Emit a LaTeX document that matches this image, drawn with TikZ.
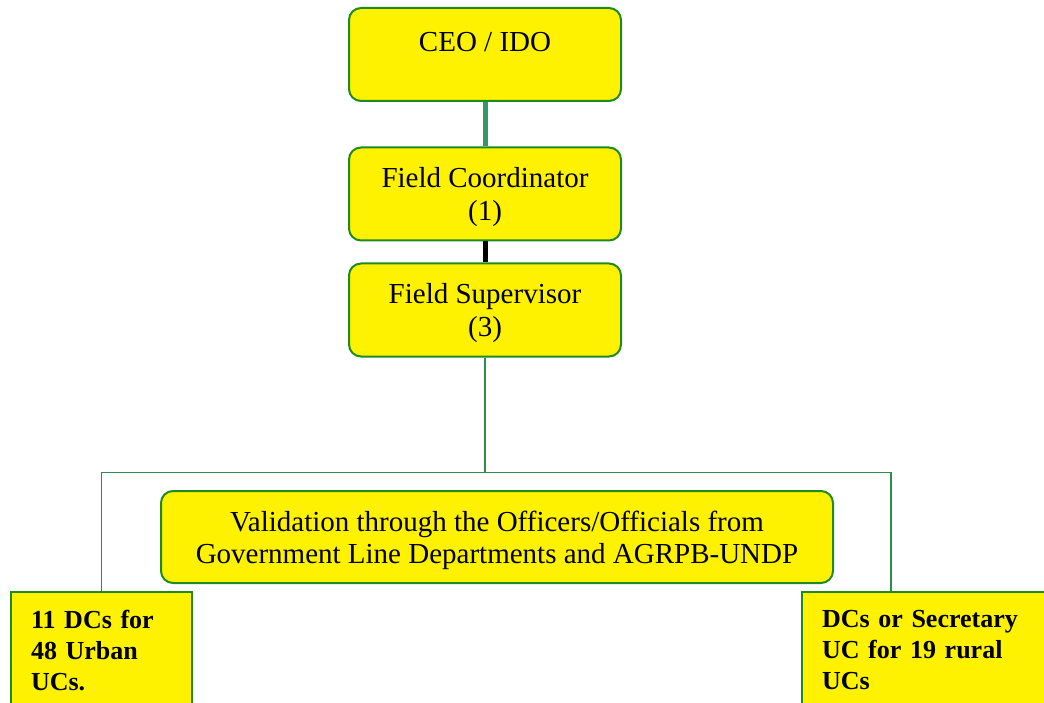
\documentclass[tikz,border=0pt]{standalone}
\usepackage{fontspec}
\setmainfont{Liberation Serif}
\definecolor{postgreen}{HTML}{1F8A1F}
\definecolor{linkgreen}{HTML}{339966}
\definecolor{wiregreen}{HTML}{2E8B4A}

\tikzset{%
  every post/.style={
    draw=postgreen,
    line width=2pt,
    fill=yellow,
    rounded corners=12pt,
    align=center,
    inner sep=0pt,
    text depth=0pt,
    minimum width=272pt,
    minimum height=93pt,
    font=\fontsize{29}{33}\selectfont
  },
  post wide/.style={
    minimum width=672pt,
    minimum height=92pt,
    font=\fontsize{29}{32}\selectfont
  },
  unit post/.style={
    draw=postgreen,
    line width=2pt,
    fill=yellow,
    anchor=north west,
    align=left,
    inner xsep=20pt,
    inner ysep=18pt,
    font=\fontsize{26}{31}\selectfont\bfseries
  },
}

\begin{document}
\begin{tikzpicture}[x=1pt, y=-1pt]
\clip (0,0) rectangle (1044,703);

% TOP chain
\node [every post] (ceo) at (485,54.5) {CEO / IDO\\[-8pt] \mbox{}};
\node [every post] (coord) at (485,194) {Field Coordinator\\(1)};
\node [every post] (super) at (485,310) {Field Supervisor\\(3)};

% VALIDATION box
\node [every post, post wide] (valid) at (497,537)
  {Validation through the Officers/Officials from\\Government Line Departments and AGRPB-UNDP};

% UNIT boxes
\node [unit post, text width=141pt] (urban) at (10,591)
  {11 DCs for\\48 Urban\\UCs.};
\node [unit post, text width=222pt] (rural) at (801,591)
  {DCs or Secretary\\UC for 19 rural\\UCs};

% Connections
\draw [linkgreen, line width=5pt] (ceo) -- (coord);
\draw [black, line width=5pt] (coord) -- (super);
\draw [wiregreen, line width=1.5pt] (super.south) -- ++(0,115) coordinate (split);
\draw [wiregreen, line width=1.5pt] (split) -| (urban.north);
\draw [wiregreen, line width=1.5pt] (split) -| ([xshift=90pt]rural.north west);

\end{tikzpicture}
\end{document}
